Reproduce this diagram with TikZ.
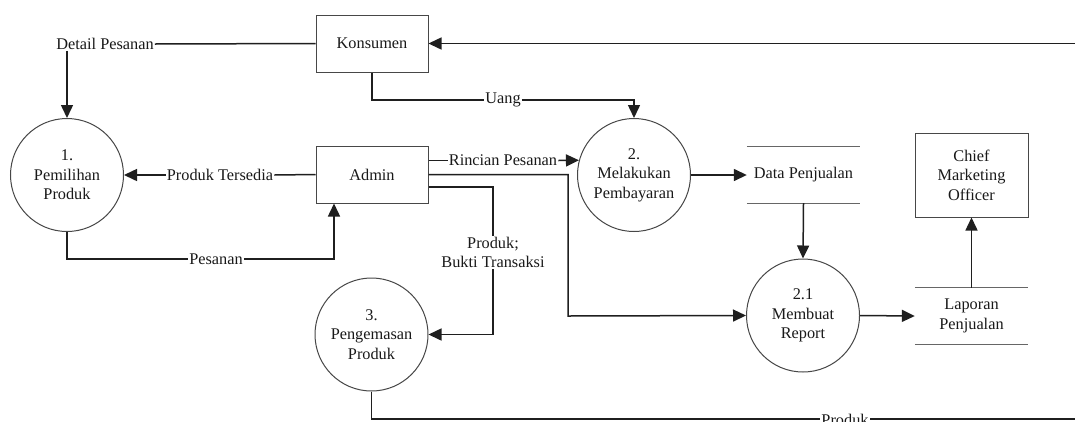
\documentclass[tikz,border=0pt]{standalone}
\usepackage{fontspec}
\setmainfont{Liberation Serif}
\usetikzlibrary{arrows.meta}
\begin{document}
\begin{tikzpicture}[x=1pt,y=-1pt,
  txt/.style={font=\fontsize{16.3}{19.5}\selectfont, text=black!90, align=center},
  proc/.style={txt, circle, draw=black!72, line width=1pt, minimum size=113pt, inner sep=0pt, fill=white},
  ent/.style={txt, rectangle, draw=black!72, line width=1pt, minimum width=112pt, minimum height=57pt, inner sep=0pt, fill=white},
  store/.style={txt, rectangle, minimum width=113pt, minimum height=56pt, inner sep=0pt},
  lbl/.style={txt, fill=white, inner sep=1pt},
  flow/.style={draw=black!88, line width=1.5pt, -{Triangle[length=13pt,width=12pt]}},
  plain/.style={draw=black!88, line width=1.5pt}
]
\useasboundingbox (0,0) rectangle (1075,421);
\clip (0,0) rectangle (1075,421);
\fill[white] (0,0) rectangle (1075,421);

% nodes
\node[ent] (kon) at (372,43.5) {Konsumen};
\node[ent] (adm) at (372,174.5) {Admin};
\node[ent, minimum width=113pt, minimum height=84pt] (cmo) at (971.5,175) {Chief\\Marketing\\Officer};
\node[proc] (c1) at (67,175) {1.\\Pemilihan\\Produk};
\node[proc] (c2) at (634,175) {2.\\Melakukan\\Pembayaran};
\node[proc] (c3) at (371.5,334.5) {3.\\Pengemasan\\Produk};
\node[proc] (c21) at (803,315.5) {2.1\\Membuat\\Report};
\node[store] (ds) at (803.5,175) {Data Penjualan};
\node[store] (lp) at (971.5,316) {Laporan\\Penjualan};
\draw[draw=black!60, line width=1.2pt] (ds.north west) -- (ds.north east) (ds.south west) -- (ds.south east);
\draw[draw=black!60, line width=1.2pt] (lp.north west) -- (lp.north east) (lp.south west) -- (lp.south east);

\coordinate (inR) at (1080,43.5);
\coordinate (outR) at (1080,419);
\coordinate (k1) at (568,316);

% labels
\node[lbl] (ldp) at (105,44) {Detail Pesanan};
\node[lbl] (lpt) at (220,175) {Produk Tersedia};
\node[lbl] (lps) at (216,259) {Pesanan};
\node[lbl] (lug) at (503,100) {Uang};
\node[lbl] (lrp) at (503,160.5) {Rincian Pesanan};
\node[lbl] (lpb) at (493,252.5) {Produk;\\Bukti Transaksi};

% flows
\draw[flow] (inR) -- (kon.east);
\draw[plain] (kon.west) -- (ldp.east);
\draw[flow] (ldp.south -| c1.north) -- (c1.north);
\draw[plain] (adm.west) -- (lpt.east);
\draw[flow] (lpt.west) -- (c1.east);
\draw[plain] (c1.south) |- (lps.west);
\draw[flow] (lps.east) -| ([xshift=-38pt]adm.south);
\draw[plain] (kon.south) |- (lug.west);
\draw[flow] (lug.east) -| (c2.north);
\draw[plain] ([yshift=14pt]adm.east) -- (lrp.west);
\draw[flow] (lrp.east) -- (c2.165);
\draw[flow] (adm.east) -| (k1) -- (c21.west);
\draw[plain] ([yshift=-12.5pt]adm.east) -| (lpb.north);
\draw[flow] (lpb.south) |- (c3.east);
\draw[flow] (c2.east) -- (ds.west);
\draw[flow] (ds.south) -- (c21.north);
\draw[flow] (c21.east) -- (lp.west);
\draw[flow] (lp.north) -- (cmo.south);
\draw[plain] (c3.south) |- (outR);
\node[lbl] (lpr) at (845,420) {Produk};
\end{tikzpicture}
\end{document}
